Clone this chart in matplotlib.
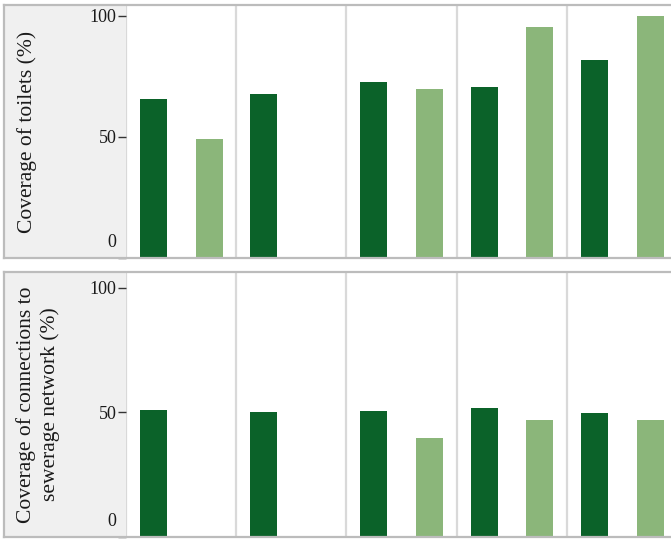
import matplotlib as mpl
mpl.use('Agg')
import matplotlib.pyplot as plt
from matplotlib.patches import Rectangle
from matplotlib.lines import Line2D
import numpy as np

plt.rcParams['font.family'] = ['Liberation Serif', 'DejaVu Serif']

# data (nan = no bar)
columns = [0, 1, 2, 3, 4]
toilets_dark = [65.7, 67.8, 72.7, 70.7, 81.8]
toilets_light = [49.2, np.nan, 69.8, 95.5, 100.0]
sewer_dark = [50.8, 50.0, 50.4, 51.6, 49.6]
sewer_light = [np.nan, np.nan, 39.6, 46.8, 46.8]
yticks = [0, 50, 100]
ylabels = ['Coverage of toilets (%)',
           'Coverage of connections to\nsewerage network (%)']

W, H = 671, 539
dark = '#0b6229'
light = '#8bb67a'
sep_col = '#d9d9d9'
frame_col = '#bcbcbc'
strip_bg = '#f0f0f0'
text_col = '#1a1a1a'

fig = plt.figure(figsize=(W / 100, H / 100), dpi=100)
fig.patch.set_facecolor('white')


def fx(px):
    return px / W


def fy(py):
    return 1 - py / H


def panel(top, bottom, ymax, dvals, lvals, label, label_x):
    # grey strip holding the axis title and tick labels
    fig.patches.append(Rectangle((fx(4), fy(bottom)), fx(126) - fx(4), fy(top) - fy(bottom),
                                 transform=fig.transFigure, facecolor=strip_bg,
                                 edgecolor='none', zorder=-5))
    for y in (top, bottom):
        fig.lines.append(Line2D([fx(4), fx(W)], [fy(y), fy(y)], transform=fig.transFigure,
                                color=frame_col, lw=1.6, zorder=5))
    fig.lines.append(Line2D([fx(4), fx(4)], [fy(top), fy(bottom)], transform=fig.transFigure,
                            color=frame_col, lw=1.6, zorder=5))

    ax = fig.add_axes([fx(126), fy(bottom), fx(W) - fx(126), fy(top) - fy(bottom)])
    ax.set_facecolor('white')
    x = np.array(columns, dtype=float)
    ax.bar(x + 0.25, dvals, width=0.245, color=dark, zorder=2)
    ax.bar(x + 0.755, lvals, width=0.245, color=light, zorder=2)
    for c in range(len(columns) + 1):
        ax.axvline(c, color=sep_col, lw=1.6, zorder=1)
    ax.set_xlim(0, (W - 126) / 110.2)
    ax.set_ylim(0, ymax)
    for s in ax.spines.values():
        s.set_visible(False)
    ax.set_xticks([])
    ax.set_yticks(yticks)
    ax.tick_params(axis='y', length=6, width=1, color='#333333', pad=1,
                   labelsize=13, labelcolor=text_col)
    # the bottom label sits a little above its tick, like the original
    for lab, t in zip(ax.get_yticklabels(), yticks):
        if t == 0:
            lab.set_va('bottom')
    fig.text(fx(label_x), (fy(top) + fy(bottom)) / 2, label, rotation=90,
             ha='center', va='center', fontsize=15.5, color=text_col,
             linespacing=1.25, multialignment='center')
    return ax


ax1 = panel(5, 258, 104.5, toilets_dark, toilets_light, ylabels[0], 27)
ax2 = panel(272, 537, 106.4, sewer_dark, sewer_light, ylabels[1], 38)

# lift the "0" labels off the frame line
for ax in (ax1, ax2):
    lab = ax.yaxis.get_major_ticks()[0].label1
    lab.set_transform(lab.get_transform() + mpl.transforms.ScaledTranslation(0, 0.07, fig.dpi_scale_trans))

fig.savefig('out.png', dpi=100, facecolor='white')
